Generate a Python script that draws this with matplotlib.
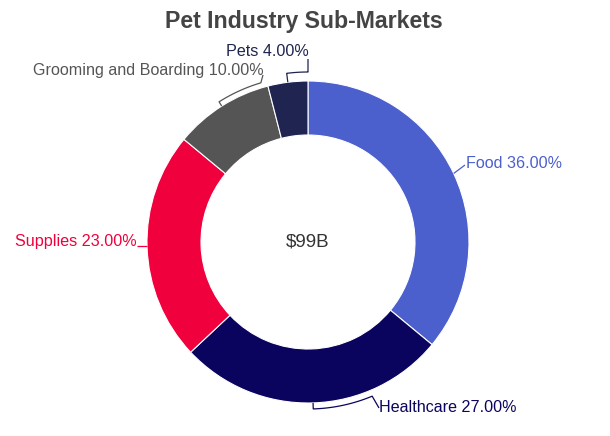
import numpy as np
import matplotlib
matplotlib.use("Agg")
import matplotlib.pyplot as plt

plt.rcParams['font.family'] = ['Liberation Sans', 'DejaVu Sans']

categories = ["Food", "Healthcare", "Supplies", "Grooming and Boarding", "Pets"]
shares = [36.0, 27.0, 23.0, 10.0, 4.0]
colors = ["#4B5FCD", "#0B045E", "#F0003C", "#555555", "#1F2450"]
center_text = "$99B"
title = "Pet Industry Sub-Markets"

W, H = 610, 436
cx, cy = 308, H - 242
R, ring = 161, 54

fig = plt.figure(figsize=(W / 100, H / 100), dpi=100)
ax = fig.add_axes([0, 0, 1, 1])
ax.pie(shares, colors=colors, center=(cx, cy), radius=R, startangle=90,
       counterclock=False,
       wedgeprops=dict(width=ring, edgecolor="white", linewidth=0.8))
ax.set_xlim(0, W)
ax.set_ylim(0, H)
ax.set_aspect("equal")
ax.axis("off")


def pt(theta, r):
    # theta: degrees clockwise from 12 o'clock
    t = np.radians(theta)
    return cx + r * np.sin(t), cy + r * np.cos(t)


# label layout: (text x, text y in px from top, ha, tick length, arc end angle, line end)
layout = {
    "Food": (466, 163, "left", 0, None, (465, 165)),
    "Healthcare": (379, 408, "left", 6, 157.4, (379, 408)),
    "Supplies": (137, 242, "right", 0, None, (137, 246)),
    "Grooming and Boarding": (264, 71, "right", 5, 343.5, (263, 75)),
    "Pets": (267, 52, "center", 9, 360.0, (308, 59)),
}

cum = np.cumsum([0] + shares)
for i, name in enumerate(categories):
    mid = (cum[i] + cum[i + 1]) / 2 * 3.6
    tx, ty, ha, tick, arc_end, lend = layout[name]
    xs, ys = [], []
    if arc_end is None:
        x0, y0 = pt(mid, R)
        if name == "Supplies":
            y0 = H - 246
        xs += [x0]
        ys += [y0]
    else:
        x0, y0 = pt(mid, R)
        xs.append(x0)
        ys.append(y0)
        rr = R + tick
        for th in np.linspace(mid, arc_end, 30):
            x1, y1 = pt(th, rr)
            xs.append(x1)
            ys.append(y1)
    xs.append(lend[0])
    ys.append(H - lend[1])
    ax.plot(xs, ys, color=colors[i], lw=0.9, solid_capstyle="butt")
    ax.text(tx, H - ty, f"{name} {shares[i]:.2f}%", color=colors[i],
            fontsize=11.6, ha=ha, va="center")

ax.text(cx, cy, center_text, fontsize=13.5, color="#333333",
        ha="center", va="center")
ax.text(W / 2 - 1, H - 22, title, fontsize=16.7, fontweight="bold",
        color="#444444", ha="center", va="center")

fig.savefig("out.png", dpi=100)
